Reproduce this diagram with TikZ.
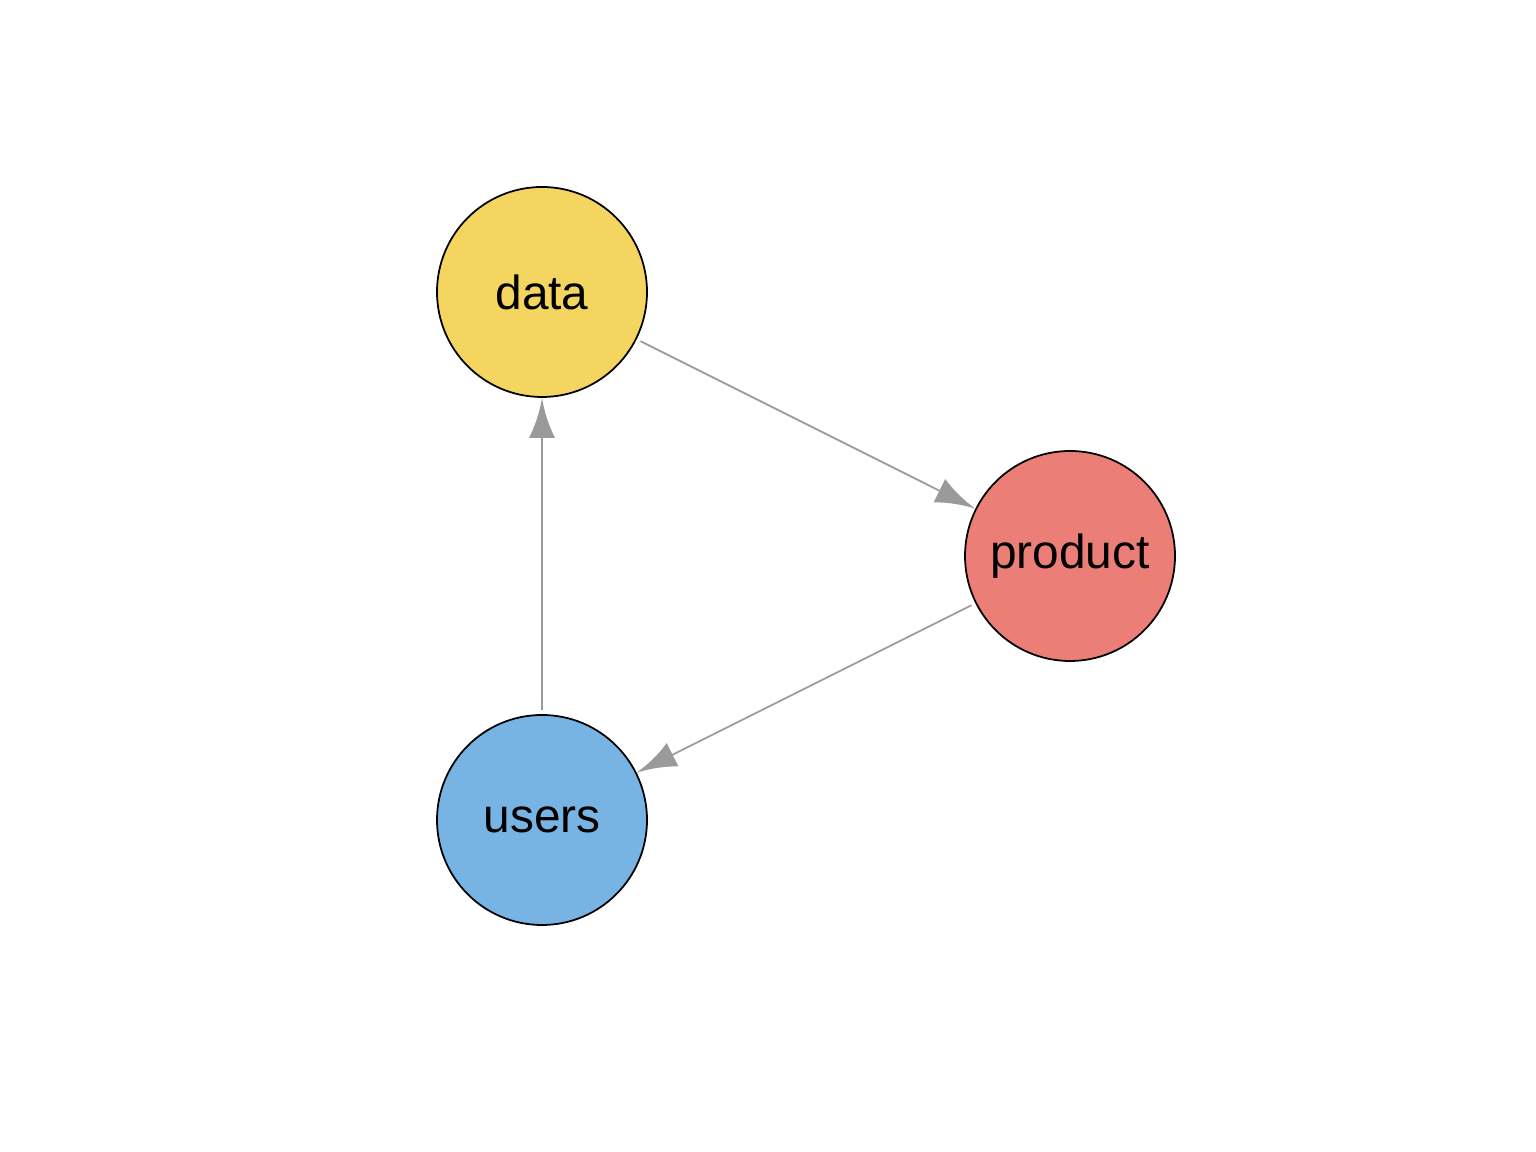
\documentclass[tikz,border=0pt]{standalone}
\usepackage{fontspec}
\setmainfont{Liberation Sans}
\usetikzlibrary{arrows.meta}

\definecolor{datafill}{HTML}{F3D55F}
\definecolor{productfill}{HTML}{EB7E77}
\definecolor{usersfill}{HTML}{77B3E3}
\definecolor{edgegray}{HTML}{9A9A9A}

% concave arrow head
\pgfdeclarearrow{
  name = Flare,
  defaults = {length = 11.4pt, width = 7.4pt},
  parameters = {\the\pgfarrowlength,\the\pgfarrowwidth},
  setup code = {
    \pgfarrowssettipend{0pt}
    \pgfarrowssetlineend{-0.9\pgfarrowlength}
    \pgfarrowssetbackend{-\pgfarrowlength}
    \pgfarrowssavethe\pgfarrowlength
    \pgfarrowssavethe\pgfarrowwidth
  },
  drawing code = {
    \pgfpathmoveto{\pgfpoint{0pt}{0pt}}
    \pgfpathcurveto{\pgfpoint{-0.4\pgfarrowlength}{0.1\pgfarrowwidth}}{\pgfpoint{-0.75\pgfarrowlength}{0.3\pgfarrowwidth}}{\pgfpoint{-\pgfarrowlength}{0.5\pgfarrowwidth}}
    \pgfpathlineto{\pgfpoint{-\pgfarrowlength}{-0.5\pgfarrowwidth}}
    \pgfpathcurveto{\pgfpoint{-0.75\pgfarrowlength}{-0.3\pgfarrowwidth}}{\pgfpoint{-0.4\pgfarrowlength}{-0.1\pgfarrowwidth}}{\pgfpoint{0pt}{0pt}}
    \pgfpathclose
    \pgfusepathqfill
  }
}

\begin{document}
\begin{tikzpicture}[>=Flare,shorten <=1.2pt,
  vertex/.style={circle,draw=black,line width=0.5pt,minimum size=2.1cm,inner sep=0pt,
    font=\fontsize{13.6}{16}\selectfont},
  link/.style={->,color=edgegray,line width=0.5pt}]

\useasboundingbox (0,0) rectangle (15.36,11.52);

\node[vertex,fill=datafill]    (data)    at (5.42,8.60)  {data};
\node[vertex,fill=productfill] (product) at (10.70,5.96) {product};
\node[vertex,fill=usersfill]   (users)   at (5.42,3.32)  {users};

\path[link] (data)    edge (product)
            (product) edge (users)
            (users)   edge (data);

\end{tikzpicture}
\end{document}
